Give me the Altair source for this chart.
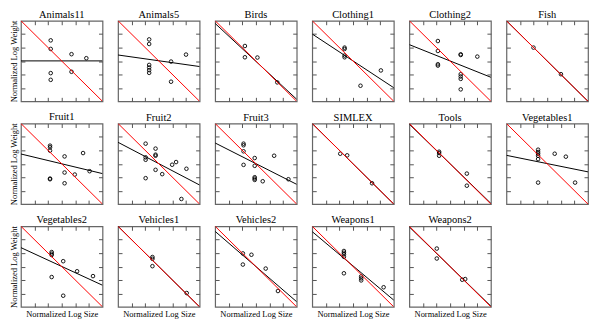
import altair as alt
import pandas as pd

NAMES = ["Animals11", "Animals5", "Birds", "Clothing1", "Clothing2", "Fish",
         "Fruit1", "Fruit2", "Fruit3", "SIMLEX", "Tools", "Vegetables1",
         "Vegetables2", "Vehicles1", "Vehicles2", "Weapons1", "Weapons2"]

X_VALUES = [
    [-0.81, -0.81, 0.72, 1.81, 0.72, -0.81, -0.81],
    [-0.71, -0.71, -0.71, -0.71, -0.71, -0.71, 0.90, 2.00, 0.90],
    [-0.81, -0.81, 0.11, 1.57],
    [-0.62, -0.62, -0.62, -0.62, 0.55, 2.05],
    [-0.90, -0.90, -0.90, -0.90, 0.78, 0.78, 2.00, 0.78, 0.78, 0.78, 0.78],
    [-1.01, 1.01],
    [-0.86, -0.86, -0.86, 0.21, 1.57, 0.21, 0.96, 2.05, -0.86, -0.86, 0.21],
    [-0.97, -0.24, -0.24, -0.24, -0.97, -0.97, -0.24, 0.25, 0.98, 1.27, 2.03, -0.97, 1.66],
    [-0.91, -0.91, -0.91, -0.09, -0.91, -0.09, 1.34, -0.09, -0.09, -0.09, 0.50, 2.39],
    [-0.94, -0.43, 1.40],
    [-0.81, -0.81, -0.81, 1.23, 1.23],
    [-0.67, -0.67, -0.67, -0.67, -0.67, 0.55, 1.37, -0.67, 2.05],
    [-0.74, -0.74, -0.74, 0.11, 1.13, 2.30, -0.74, 0.11],
    [-0.47, -0.47, -0.47, 2.05],
    [-0.96, -0.33, -0.96, 0.72, 1.62],
    [-0.67, -0.67, -0.67, -0.67, -0.67, 0.60, 0.60, 0.60, 2.25],
    [-0.98, -0.98, 0.89, 1.11],
]

Y_VALUES = [
    [1.54, 0.90, 0.51, 0.21, -0.80, -0.90, -1.40],
    [1.61, 1.27, -0.29, -0.48, -0.68, -0.88, -0.04, 0.48, -1.54],
    [1.12, 0.28, 0.26, -1.59],
    [1.00, 0.90, 0.41, 0.28, -1.84, -0.70],
    [1.49, 0.75, -0.24, -0.34, 0.50, 0.45, 0.33, -0.98, -1.15, -1.33, -2.11],
    [1.00, -0.98],
    [1.35, 1.23, 0.98, 0.55, 0.80, -0.65, -0.80, -0.55, -1.10, -1.15, -1.45],
    [1.50, 1.13, 0.68, 0.60, 0.48, 0.30, -0.45, -0.77, -0.07, 0.13, -0.37, -1.07, -2.62],
    [1.50, 1.38, 0.93, 0.43, -0.08, -0.15, 0.60, -1.00, -1.10, -1.20, -1.30, -1.15],
    [0.75, 0.63, -1.45],
    [0.90, 0.80, 0.60, -0.73, -1.63],
    [1.05, 0.88, 0.75, 0.60, 0.35, 0.75, 0.53, -1.40, -1.40],
    [1.08, 0.96, 0.86, 0.40, -0.35, -0.71, -0.78, -2.17],
    [0.71, 0.58, 0.03, -1.97],
    [0.98, 0.88, 0.15, -0.15, -1.82],
    [1.16, 1.03, 0.91, 0.73, -0.50, -0.73, -0.88, -1.03, -1.54],
    [1.34, 0.60, -0.98, -0.93],
]

# fitted (black) line: y at the left and right edge of each panel
FIT_LEFT = [0.01, 0.45, 2.80, 2.01, 1.22, 3.00, 0.73, 1.60, 1.55, 3.00, 2.95, 0.63,
            1.41, 3.00, 2.62, 2.60, 2.95]
FIT_RIGHT = [0.01, -0.41, -2.85, -1.99, -1.21, -3.00, -0.73, -1.58, -1.53, -3.00, -2.95, -0.60,
             -1.39, -3.00, -2.62, -2.50, -2.95]

LINE_X = [-3, 3]
IDENTITY_Y = [3, -3]
DOMAIN = [-3, 3]
TICKS = [-2, -1, 0, 1, 2]

FONT = "Liberation Serif"
scale = alt.Scale(domain=DOMAIN, nice=False, zero=False)


def inner_axis(orient, title=None):
    return alt.Axis(orient=orient, values=TICKS, labels=False, domain=False, grid=False,
                    ticks=True, tickSize=4, tickColor="#555555", tickWidth=1, offset=-4,
                    title=title, titleFont=FONT, titleFontSize=8.5,
                    titleFontWeight="normal", titleColor="black", titlePadding=2)


charts = []
for i, name in enumerate(NAMES):
    row, col = divmod(i, 6)
    pts = pd.DataFrame({"x": X_VALUES[i], "y": Y_VALUES[i]})
    fit = pd.DataFrame({"x": LINE_X, "y": [FIT_LEFT[i], FIT_RIGHT[i]]})
    ident = pd.DataFrame({"x": LINE_X, "y": IDENTITY_Y})
    xt = "Normalized Log Size" if row == 2 else None
    yt = "Normalized Log Weight" if col == 0 else None

    points = alt.Chart(pts).mark_point(
        shape="circle", filled=False, color="black", size=13, strokeWidth=0.9, opacity=1
    ).encode(
        x=alt.X("x:Q", scale=scale, axis=inner_axis("bottom", xt)),
        y=alt.Y("y:Q", scale=scale, axis=inner_axis("left", yt)),
    )
    fit_line = alt.Chart(fit).mark_line(color="black", strokeWidth=1, clip=True).encode(
        x=alt.X("x:Q", scale=scale, axis=None),
        y=alt.Y("y:Q", scale=scale, axis=None),
    )
    ident_line = alt.Chart(ident).mark_line(color="#ff0000", strokeWidth=1, clip=True).encode(
        x=alt.X("x:Q", scale=scale, axis=None),
        y=alt.Y("y:Q", scale=scale, axis=None),
    )
    frame_axes = alt.Chart(ident).mark_line(opacity=0).encode(
        x=alt.X("x:Q", scale=scale, axis=inner_axis("top")),
        y=alt.Y("y:Q", scale=scale, axis=inner_axis("right")),
    )
    panel = alt.layer(points, fit_line, ident_line, frame_axes).resolve_axis(
        x="independent", y="independent"
    ).properties(
        width=82, height=81,
        title=alt.TitleParams(name, font=FONT, fontSize=10.5, fontWeight="normal",
                              color="black", offset=0),
    )
    charts.append(panel)

chart = alt.concat(*charts, columns=6, spacing={"row": 22.3, "column": 15.6},
                   bounds="flush", align="all").properties(padding=0).configure_view(
    stroke="#666666", strokeWidth=1.2, fill="white"
)

chart.save("out.html", embed_options={"renderer": "svg", "actions": False})
